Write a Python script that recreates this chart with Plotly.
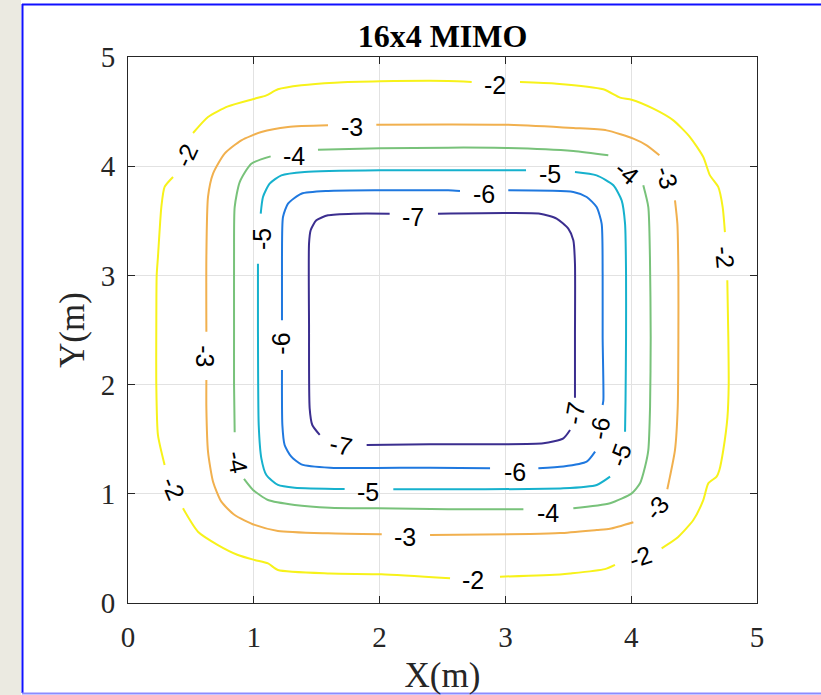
import plotly.graph_objects as go

# ---- contour lines (x, y in metres); None = gap for a label ----
level_values = [-2, -3, -4, -5, -6, -7]
level_colors = ["#f7f21a", "#f1b04e", "#78c27a", "#16b1cd", "#1f78df", "#3b2e8f"]

c2_x = [0.517, 0.636, 0.795, 1.007, 1.100, 1.192, 1.378, 1.643, 2.006, 2.544, 2.732, None,
        3.116, 3.407, 3.778, 3.911, 4.004, 4.176, 4.335, 4.467, 4.573, 4.626, 4.692, 4.727, 4.745, None,
        4.764, 4.772, 4.775, 4.765, 4.732, 4.701, 4.679, 4.613, 4.573, 4.494, 4.361, 4.242, None,
        3.871, 3.790, 3.514, 3.434, 2.957, None,
        2.560, 2.014, 1.606, 1.192, 1.113, 1.007, 0.874, 0.715, 0.556, 0.437, None,
        0.291, 0.238, 0.225, 0.225, 0.228, 0.238, 0.265, 0.291, 0.358]
c2_y = [4.304, 4.451, 4.548, 4.618, 4.649, 4.704, 4.741, 4.765, 4.777, 4.780, 4.771, None,
        4.771, 4.756, 4.704, 4.628, 4.609, 4.527, 4.420, 4.267, 4.084, 3.916, 3.810, 3.626, 3.397, None,
        2.955, 2.436, 2.000, 1.700, 1.401, 1.218, 1.157, 1.096, 0.943, 0.760, 0.592, 0.501, None,
        0.350, 0.310, 0.270, 0.262, 0.241, None,
        0.226, 0.263, 0.270, 0.302, 0.363, 0.394, 0.440, 0.531, 0.653, 0.867, None,
        1.264, 1.539, 1.996, 2.546, 3.000, 3.168, 3.626, 3.810, 3.901]

c3_x = [0.623, 0.623, 0.636, 0.676, 0.768, 0.901, 1.060, 1.272, 1.590, None,
        1.974, 2.544, 3.010, 3.540, 3.805, 4.017, 4.123, 4.224, None,
        4.348, 4.367, 4.375, 4.375, 4.370, 4.348, 4.308, 4.287, None,
        4.017, 3.831, 3.726, 3.434, 3.196, 2.401, None,
        2.017, 1.590, 1.192, 1.007, 0.848, 0.742, 0.676, 0.636, 0.623, 0.623]
c3_y = [2.485, 3.168, 3.718, 3.932, 4.115, 4.237, 4.313, 4.359, 4.374, None,
        4.380, 4.383, 4.380, 4.350, 4.328, 4.252, 4.191, 4.100, None,
        3.687, 3.474, 3.016, 2.436, 1.800, 1.401, 1.157, 1.041, None,
        0.740, 0.680, 0.669, 0.640, 0.632, 0.623, None,
        0.629, 0.638, 0.660, 0.715, 0.806, 0.928, 1.111, 1.386, 1.783, 2.042]

c4_x = [0.848, 0.843, 0.843, 0.843, 0.848, 0.888, 0.980, 1.134, None,
        1.510, 2.006, 2.544, 3.010, 3.540, 3.818, None,
        4.096, 4.136, 4.149, 4.155, 4.150, 4.136, 4.110, 4.070, 4.004, 3.832, 3.540, None,
        3.143, 2.544, 1.987, 1.606, 1.325, 1.113, 0.994, 0.922]
c4_y = [1.563, 1.997, 2.546, 3.168, 3.626, 3.855, 4.023, 4.090, None,
        4.151, 4.164, 4.170, 4.167, 4.139, 4.100, None,
        3.825, 3.626, 3.168, 2.436, 1.800, 1.401, 1.248, 1.096, 1.004, 0.913, 0.867, None,
        0.858, 0.858, 0.867, 0.873, 0.898, 0.943, 1.035, 1.136]

c5_x = [1.055, 1.073, 1.126, 1.219, 1.404, 2.006, 2.544, 3.164, None,
        3.553, 3.725, 3.858, 3.924, 3.951, 3.959, 3.959, 3.955, 3.951, None,
        3.832, 3.726, 3.461, 2.666, 2.109, None,
        1.722, 1.325, 1.192, 1.100, 1.060, 1.039, 1.033, 1.033]
c5_y = [3.565, 3.718, 3.840, 3.916, 3.947, 3.962, 3.962, 3.962, None,
        3.947, 3.916, 3.825, 3.687, 3.474, 3.016, 2.436, 1.860, 1.569, None,
        1.157, 1.081, 1.050, 1.041, 1.041, None,
        1.044, 1.056, 1.081, 1.172, 1.325, 1.630, 2.546, 3.107]

c6_x = [1.224, 1.224, 1.232, 1.272, 1.378, 1.590, 2.006, 2.544, 2.639, None,
        3.023, 3.540, 3.646, 3.725, 3.765, 3.773, 3.773, 3.779, 3.773, None,
        3.713, 3.646, 3.461, 3.262, None,
        2.878, 2.401, 1.606, 1.378, 1.298, 1.245, 1.227, 1.224]
c6_y = [2.589, 3.168, 3.535, 3.657, 3.748, 3.773, 3.779, 3.779, 3.773, None,
        3.779, 3.764, 3.718, 3.626, 3.474, 3.016, 2.436, 1.859, 1.813, None,
        1.386, 1.294, 1.249, 1.233, None,
        1.233, 1.239, 1.239, 1.270, 1.340, 1.447, 1.630, 2.134]

c7_x = [1.524, 1.465, 1.444, 1.439, 1.439, 1.452, 1.497, 1.590, 1.802, 2.080, None,
        2.464, 3.010, 3.275, 3.407, 3.500, 3.540, 3.553, 3.553, 3.553, None,
        3.514, 3.461, 3.302, 2.931, 2.401, 1.897]
c7_y = [1.539, 1.630, 1.783, 2.546, 3.291, 3.413, 3.504, 3.550, 3.565, 3.565, None,
        3.565, 3.571, 3.565, 3.520, 3.428, 3.321, 3.107, 2.436, 1.880, None,
        1.584, 1.508, 1.462, 1.453, 1.453, 1.447]

line_x = [c2_x, c3_x, c4_x, c5_x, c6_x, c7_x]
line_y = [c2_y, c3_y, c4_y, c5_y, c6_y, c7_y]

# ---- contour labels ----
label_text = ["-2", "-2", "-2", "-2", "-2", "-2",
              "-3", "-3", "-3", "-3", "-3",
              "-4", "-4", "-4", "-4",
              "-5", "-5", "-5", "-5",
              "-6", "-6", "-6", "-6",
              "-7", "-7", "-7"]
label_x = [2.917, 0.464, 0.358, 4.745, 4.070, 2.745,
           1.781, 4.282, 4.202, 2.202, 0.612,
           1.320, 3.964, 3.342, 0.874,
           3.354, 1.060, 3.911, 1.911,
           2.832, 3.752, 3.077, 1.219,
           2.265, 3.553, 1.696]
label_y = [4.745, 4.100, 1.050, 3.168, 0.424, 0.211,
           4.359, 3.901, 0.867, 0.608, 2.260,
           4.093, 3.947, 0.821, 1.294,
           3.932, 3.336, 1.355, 1.020,
           3.748, 1.600, 1.203, 2.378,
           3.535, 1.737, 1.447]
label_angle = [0, -65, 67, 85, -19, 0,
               0, 71, -50, 0, 90,
               0, 40, 0, 79,
               0, -90, -70, 0,
               0, -80, 0, -90,
               0, -80, 12]

x_ticks = [0, 1, 2, 3, 4, 5]
y_ticks = [0, 1, 2, 3, 4, 5]

fig = go.Figure()
for lv, col, xs, ys in zip(level_values, level_colors, line_x, line_y):
    fig.add_trace(go.Scatter(x=xs, y=ys, mode="lines", name=str(lv),
                             line=dict(color=col, width=2, shape="spline", smoothing=0.6),
                             connectgaps=False, hoverinfo="skip", showlegend=False))

annotations = []
for t, x, y, a in zip(label_text, label_x, label_y, label_angle):
    annotations.append(dict(x=x, y=y, xref="x", yref="y", text=t, textangle=a,
                            showarrow=False,
                            font=dict(family="Liberation Sans, Arial", size=25, color="black")))

W, H = 821, 695
L, R, T, B = 128, 64, 57, 92
pw, ph = W - L - R, H - T - B

def px(p):
    return (p - L) / pw

def py(p):
    return (H - B - p) / ph

shapes = [
    dict(type="rect", xref="paper", yref="paper", x0=px(0), x1=px(21), y0=py(H), y1=py(0),
         fillcolor="#ebeae1", line=dict(width=0), layer="below"),
    dict(type="line", xref="paper", yref="paper", x0=px(22.5), x1=px(22.5), y0=py(693), y1=py(4),
         line=dict(color="#1010ff", width=2)),
    dict(type="line", xref="paper", yref="paper", x0=px(22), x1=px(W + 5), y0=py(4.5), y1=py(4.5),
         line=dict(color="#1010ff", width=2)),
    dict(type="line", xref="paper", yref="paper", x0=px(22), x1=px(W + 5), y0=py(693.5), y1=py(693.5),
         line=dict(color="#8c8cff", width=2)),
]

axis_common = dict(range=[0, 5], showgrid=True, gridcolor="#e2e2e2", gridwidth=1,
                   zeroline=False, showline=True, linecolor="#262626", linewidth=1,
                   mirror="ticks", ticks="inside", ticklen=7, tickcolor="#262626",
                   tickfont=dict(family="Liberation Serif, Times New Roman", size=29, color="#262626"))

fig.update_layout(
    width=W, height=H,
    margin=dict(l=L, r=R, t=T, b=B, autoexpand=False),
    paper_bgcolor="white", plot_bgcolor="white",
    title=dict(text="<b>16x4 MIMO</b>", xref="container", x=442.5 / W, xanchor="center",
               yref="container", y=1 - 36 / H, yanchor="middle",
               font=dict(family="Liberation Serif, Times New Roman", size=32, color="black")),
    xaxis=dict(axis_common, tickvals=x_ticks, ticktext=[str(v) for v in x_ticks],
               ticklabelstandoff=8,
               title=dict(text="X(m)", standoff=10,
                          font=dict(family="Liberation Serif, Times New Roman", size=35, color="#262626"))),
    yaxis=dict(axis_common, tickvals=y_ticks, ticktext=[str(v) for v in y_ticks],
               ticklabelstandoff=6,
               title=dict(text="Y(m)", standoff=5,
                          font=dict(family="Liberation Serif, Times New Roman", size=35, color="#262626"))),
    annotations=annotations,
    shapes=shapes,
)

fig.write_html("out.html")
